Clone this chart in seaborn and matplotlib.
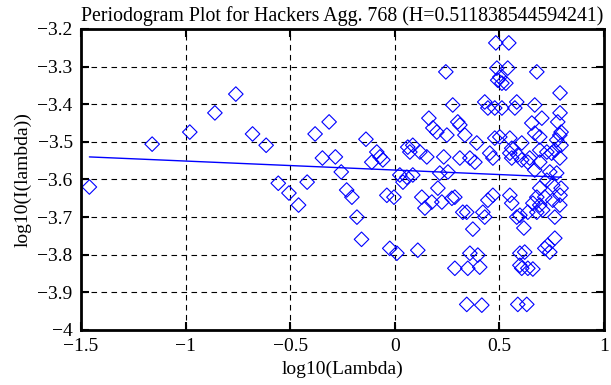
import matplotlib
matplotlib.use('Agg')
import matplotlib.pyplot as plt
import seaborn as sns
import pandas as pd

sns.set_style('ticks')
plt.rcParams['font.family'] = ['Liberation Serif', 'DejaVu Serif']
plt.rcParams.update({'axes.edgecolor': 'black', 'text.color': 'black',
                     'axes.labelcolor': 'black', 'xtick.color': 'black',
                     'ytick.color': 'black'})

titulo = 'Periodogram Plot for Hackers Agg. 768 (H=0.511838544594241)'

# log10(Lambda) das frequencias
log_lambda = [
    -1.46, -1.16, -0.98, -0.86, -0.76, -0.68, -0.615, -0.557, -0.506, -0.46,
    -0.419, -0.381, -0.346, -0.314, -0.284, -0.256, -0.23, -0.205, -0.181, -0.159,
    -0.138, -0.110, -0.086, -0.071, -0.057, -0.038, -0.004, -0.024, 0.010, 0.024,
    0.039, 0.058, 0.062, 0.086, 0.072, 0.086, 0.120, 0.153, 0.110, 0.129,
    0.144, 0.177, 0.206, 0.225, 0.163, 0.182, 0.201, 0.249, 0.234, 0.215,
    0.254, 0.273, 0.287, 0.244, 0.277, 0.301, 0.311, 0.335, 0.311, 0.359,
    0.383, 0.392, 0.325, 0.344, 0.373, 0.421, 0.430, 0.287, 0.349, 0.406,
    0.359, 0.397, 0.344, 0.416,
    0.430, 0.445, 0.478, 0.483, 0.545, 0.488, 0.540, 0.492, 0.502, 0.512,
    0.531, 0.512, 0.478, 0.502, 0.550, 0.454, 0.469, 0.550, 0.559, 0.469,
    0.445, 0.550, 0.559, 0.583, 0.598, 0.617, 0.598, 0.621, 0.598, 0.607,
    0.636, 0.660, 0.588, 0.631,
    0.583, 0.574, 0.669, 0.679, 0.790, 0.790, 0.655, 0.703, 0.669, 0.693,
    0.779, 0.795, 0.789, 0.795, 0.774, 0.607, 0.607, 0.645, 0.693, 0.727,
    0.750, 0.765, 0.789, 0.669, 0.741, 0.774, 0.727, 0.755, 0.795, 0.790,
    0.693, 0.679, 0.717, 0.660, 0.693, 0.755, 0.789, 0.707, 0.636, 0.679,
    0.765, 0.765, 0.731, 0.741, 0.717, 0.559, 0.588, 0.636, 0.693,
]

# log10(I(lambda)) correspondente
log_i = [
    -3.620, -3.506, -3.474, -3.423, -3.373, -3.479, -3.509, -3.610, -3.636, -3.668,
    -3.607, -3.479, -3.543, -3.447, -3.540, -3.580, -3.628, -3.647, -3.700, -3.759,
    -3.493, -3.554, -3.527, -3.540, -3.548, -3.642, -3.647, -3.783, -3.796, -3.588,
    -3.607, -3.594, -3.514, -3.509, -3.527, -3.588, -3.527, -3.540, -3.788, -3.647,
    -3.676, -3.660, -3.623, -3.660, -3.437, -3.463, -3.474, -3.482, -3.540, -3.583,
    -3.580, -3.650, -3.647, -3.314, -3.402, -3.447, -3.455, -3.482, -3.543, -3.543,
    -3.554, -3.503, -3.687, -3.687, -3.732, -3.687, -3.700, -3.836, -3.836, -3.833,
    -3.796, -3.801, -3.932, -3.934,
    -3.394, -3.410, -3.410, -3.237, -3.237, -3.304, -3.304, -3.336, -3.328, -3.344,
    -3.344, -3.410, -3.490, -3.487, -3.490, -3.530, -3.543, -3.530, -3.543, -3.642,
    -3.655, -3.642, -3.663, -3.700, -3.695, -3.729, -3.796, -3.793, -3.828, -3.836,
    -3.836, -3.838, -3.932, -3.932,
    -3.394, -3.410, -3.402, -3.314, -3.370, -3.423, -3.450, -3.437, -3.477, -3.487,
    -3.447, -3.474, -3.482, -3.509, -3.495, -3.503, -3.548, -3.543, -3.522, -3.527,
    -3.530, -3.522, -3.543, -3.575, -3.580, -3.583, -3.602, -3.615, -3.623, -3.642,
    -3.623, -3.647, -3.647, -3.663, -3.668, -3.655, -3.668, -3.681, -3.687, -3.687,
    -3.700, -3.756, -3.775, -3.793, -3.783, -3.517, -3.535, -3.554, -3.554,
]

# reta ajustada (inclinacao 1 - 2H)
reta_x = [-1.46, 0.797]
reta_y = [-3.540, -3.594]

xticks = [-1.5, -1, -0.5, 0, 0.5, 1]
yticks = [-4, -3.9, -3.8, -3.7, -3.6, -3.5, -3.4, -3.3, -3.2]

df = pd.DataFrame({'x': log_lambda, 'y': log_i})

fig = plt.figure(figsize=(6.11, 3.85), dpi=100)
ax = fig.add_axes([0.1326, 0.1429, 0.8559, 0.7818])

sns.scatterplot(data=df, x='x', y='y', ax=ax, marker='D', s=55,
                fc='none', ec='blue', linewidth=0.8, legend=False)
sns.lineplot(x=reta_x, y=reta_y, ax=ax, color='blue', lw=1)

ax.set_xlim(-1.5, 1)
ax.set_ylim(-4, -3.2)
ax.set_xticks(xticks)
ax.set_yticks(yticks)
ax.set_xticklabels(['\u22121.5', '\u22121', '\u22120.5', '0', '0.5', '1'])
ax.set_yticklabels(['\u22124', '\u22123.9', '\u22123.8', '\u22123.7', '\u22123.6',
                    '\u22123.5', '\u22123.4', '\u22123.3', '\u22123.2'])
ax.grid(True, color='black', linestyle=(0, (5, 4)), linewidth=0.8)
ax.set_axisbelow(True)

for s in ax.spines.values():
    s.set_visible(True)
    s.set_linewidth(2)
    s.set_color('black')
ax.tick_params(direction='in', length=6, width=1.5, top=True, right=True,
               labelsize=14, pad=6, colors='black')

ax.set_title(titulo, fontsize=14.3, pad=6)
ax.set_xlabel('log10(Lambda)', fontsize=14, labelpad=4)
ax.set_ylabel('log10(I(lambda))', fontsize=14, labelpad=4)

fig.savefig('out.png', dpi=100)
